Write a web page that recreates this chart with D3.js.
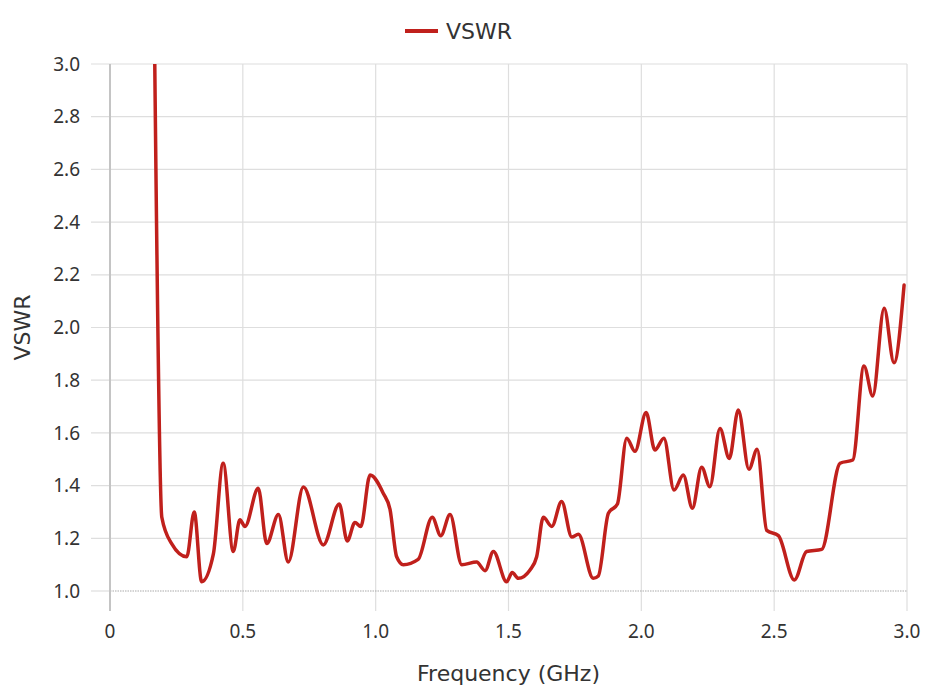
<!DOCTYPE html>
<html><head><meta charset="utf-8">
<script src="https://cdn.jsdelivr.net/npm/d3@7"></script>
<style>
body{margin:0;background:#fff;}
text{font-family:"Noto Sans","Open Sans",sans-serif;}
.ttl{font-family:"DejaVu Sans","Noto Sans",sans-serif;}
</style></head>
<body><svg id="c" width="930" height="696"></svg>
<script>
const seriesName = "VSWR";
const freq = [0.168,0.195,0.232,0.289,0.317,0.345,0.389,0.426,0.464,0.489,0.508,0.558,0.590,0.634,0.671,0.728,0.803,0.863,0.893,0.922,0.944,0.979,1.029,1.054,1.079,1.104,1.160,1.213,1.245,1.280,1.324,1.380,1.412,1.443,1.493,1.514,1.537,1.581,1.606,1.631,1.663,1.700,1.738,1.763,1.819,1.838,1.876,1.910,1.945,1.976,2.018,2.051,2.085,2.123,2.158,2.192,2.227,2.258,2.296,2.331,2.365,2.405,2.436,2.472,2.516,2.576,2.622,2.679,2.748,2.796,2.838,2.871,2.914,2.951,2.989];
const vswr = [3.05,1.28,1.18,1.13,1.30,1.035,1.14,1.485,1.15,1.27,1.245,1.39,1.18,1.29,1.11,1.395,1.175,1.33,1.19,1.26,1.245,1.44,1.37,1.31,1.13,1.10,1.12,1.28,1.21,1.29,1.10,1.11,1.077,1.15,1.035,1.07,1.048,1.08,1.13,1.28,1.245,1.34,1.205,1.215,1.048,1.057,1.295,1.33,1.58,1.53,1.677,1.535,1.58,1.383,1.44,1.314,1.47,1.396,1.617,1.503,1.687,1.462,1.538,1.23,1.21,1.042,1.15,1.158,1.485,1.497,1.854,1.74,2.073,1.866,2.161];
const xTicks = [0,0.5,1.0,1.5,2.0,2.5,3.0];
const xTickLabels = ["0","0.5","1.0","1.5","2.0","2.5","3.0"];
const yTicks = [1.0,1.2,1.4,1.6,1.8,2.0,2.2,2.4,2.6,2.8,3.0];
const xTitle = "Frequency (GHz)";
const yTitle = "VSWR";

const svg = d3.select("#c");
const L=110,R=907,T=64,B=591;
const x = d3.scaleLinear().domain([0,3]).range([L,R]);
const y = d3.scaleLinear().domain([1,3]).range([B,T]);

// grid
svg.append("g").selectAll("line").data(yTicks.filter(d=>d>1)).join("line")
  .attr("x1",L-19).attr("x2",R).attr("y1",d=>y(d)).attr("y2",d=>y(d))
  .attr("stroke","#dedede").attr("stroke-width",1.2);
svg.append("g").selectAll("line").data(xTicks.filter(d=>d>0)).join("line")
  .attr("x1",d=>x(d)).attr("x2",d=>x(d)).attr("y1",T).attr("y2",B+20)
  .attr("stroke","#dedede").attr("stroke-width",1.2);
svg.append("line").attr("x1",L-19).attr("x2",L).attr("y1",B).attr("y2",B).attr("stroke","#dedede").attr("stroke-width",1.2);
svg.append("line").attr("x1",L).attr("x2",R).attr("y1",B).attr("y2",B)
  .attr("stroke","#aaa").attr("stroke-width",1.2).attr("stroke-dasharray","1.5,1");
svg.append("line").attr("x1",L).attr("x2",L).attr("y1",T).attr("y2",B+20)
  .attr("stroke","#c4c4c4").attr("stroke-width",2);

// tick labels
svg.append("g").selectAll("text").data(yTicks).join("text")
  .attr("x",L-30).attr("y",d=>y(d)).attr("dy","0.35em").attr("text-anchor","end")
  .attr("font-size",19).attr("fill","#333").text(d=>d.toFixed(1));
svg.append("g").selectAll("text").data(xTicks).join("text")
  .attr("x",d=>x(d)).attr("y",631).attr("dy","0.35em").attr("text-anchor","middle")
  .attr("font-size",19).attr("fill","#333").text((d,i)=>xTickLabels[i]);

// titles
svg.append("text").attr("class","ttl").attr("x",(L+R)/2).attr("y",673).attr("dy","0.35em").attr("text-anchor","middle")
  .attr("font-size",22).attr("fill","#333").text(xTitle);
svg.append("text").attr("class","ttl").attr("transform",`translate(22,${(T+B)/2}) rotate(-90)`).attr("dy","0.35em")
  .attr("text-anchor","middle").attr("font-size",22).attr("fill","#333").text(yTitle);

// legend
svg.append("line").attr("x1",405).attr("x2",438).attr("y1",31).attr("y2",31)
  .attr("stroke","#c0201c").attr("stroke-width",4);
svg.append("text").attr("class","ttl").attr("x",446).attr("y",31).attr("dy","0.35em").attr("font-size",22)
  .attr("fill","#333").text(seriesName);

// clip and line
svg.append("clipPath").attr("id","clip").append("rect").attr("x",L).attr("y",T).attr("width",R-L).attr("height",B-T+5);
const data = freq.map((f,i)=>[f,vswr[i]]);
svg.append("path").datum(data).attr("clip-path","url(#clip)")
  .attr("fill","none").attr("stroke","#c0201c").attr("stroke-width",3.5)
  .attr("stroke-linejoin","round").attr("stroke-linecap","round")
  .attr("d",d3.line().x(d=>x(d[0])).y(d=>y(d[1])).curve(d3.curveMonotoneX));
</script></body></html>
